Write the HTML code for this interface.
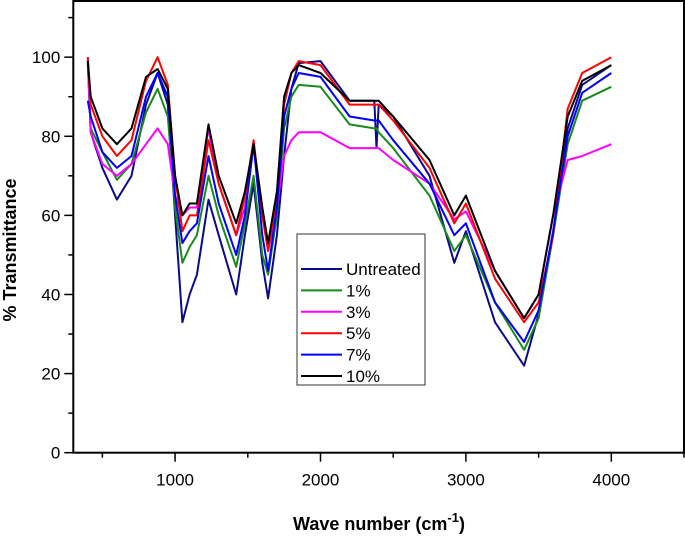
<!DOCTYPE html>
<html><head><meta charset="utf-8"><style>
body{margin:0;background:#fff;width:685px;height:537px;overflow:hidden}
svg{display:block;font-family:"Liberation Sans",Arial,sans-serif}
</style></head><body>
<svg id="chart" width="685" height="537">
<g id="axes"></g><g id="series"></g><g id="legend"></g>
</svg>
<script>
const wavenumbers=[400,420,500,600,700,800,880,950,1000,1050,1100,1150,1230,1300,1420,1480,1540,1600,1640,1700,1750,1800,1850,2000,2200,2370,2385,2400,2500,2750,2920,3000,3200,3400,3500,3600,3700,3800,4000];
const seriesNames=["Untreated","1%","3%","5%","7%","10%"];
const seriesColors=["#0a0a8c","#1a8a1a","#ff00ff","#ff0000","#0000ff","#000000"];
const untreated=[99,81,72,64,70,88,96,88,60,33,40,45,64,55,40,55,68,48,39,55,75,92,98.5,99,89,89,77,88,85,70,48,56,33,22,35,55,82,93,98];
const pct1=[98,82,76,69,73,86,92,85,62,48,52,55,70,60,47,58,70,50,45,60,82,90,93,92.5,83,82,82,81,77,65,51,55,38,26,34,55,78,89,92.5];
const pct3=[100,81,73,70,73,78,82,78,65,60,62,62,82,68,55,62,78,62,51,62,75,79,81,81,77,77,77,77,74,68,59,61,46,34,40,60,74,75,78];
const pct5=[100,88,80,75,79,94,100,93,70,56,60,60,79,68,55,65,79,60,51,65,88,96,99,98,88,88,88,88,84,72,58,63,44,33,38,55,87,96,100];
const pct7=[89,85,76,72,75,90,96,90,65,53,56,58,75,63,50,60,78,55,46,62,85,92,96,95,85,84,84,84,79,68,55,58,38,28,36,56,80,91,96];
const pct10=[99,90,82,78,82,95,97,92,70,60,63,63,83,70,58,66,78,62,53,66,90,96,98,96,89,89,89,89,85,74,60,65,46,34,40,60,85,94,98];
const xTicks=[1000,2000,3000,4000];
const yTicks=[0,20,40,60,80,100];

const NS="http://www.w3.org/2000/svg";
const L=73.3,R=684,T=1,B=452.7,xMin=300,xMax=4500,yMin=0,yMax=114.2;
const xs=v=>L+(v-xMin)/(xMax-xMin)*(R-L);
const ys=v=>B-(v-yMin)/(yMax-yMin)*(B-T);
function mk(tag,attrs,parent,text){const e=document.createElementNS(NS,tag);for(const k in attrs)e.setAttribute(k,attrs[k]);if(text!==undefined)e.textContent=text;parent.appendChild(e);return e;}
const axes=document.getElementById('axes');
const frame=mk('rect',{x:L,y:T,width:R-L,height:B-T,fill:'none',stroke:'#000','stroke-width':2},axes);


for(let v=500;v<=4500;v+=500){
  const major=v%1000===0;
  const t=mk('line',{x1:xs(v),x2:xs(v),y1:B,y2:B+(major?9:5),stroke:'#000','stroke-width':1.5},axes);
  
  
}
xTicks.forEach(v=>{
  const t=mk('text',{x:xs(v),y:B+33,'font-size':17,'text-anchor':'middle'},axes,String(v));
  
  
});
for(let v=0;v<=110;v+=10){
  const major=v%20===0;
  const t=mk('line',{x1:L-(major?9:5),x2:L,y1:ys(v),y2:ys(v),stroke:'#000','stroke-width':1.5},axes);
  
  
}
yTicks.forEach(v=>{
  const t=mk('text',{x:L-13,y:ys(v)+6,'font-size':17,'text-anchor':'end'},axes,String(v));
  
  
});
const xt=mk('text',{x:379,y:530,'font-size':18,'font-weight':'bold','text-anchor':'middle'},axes);


xt.appendChild(document.createTextNode('Wave number (cm'));
const sup=mk('tspan',{dy:-8,'font-size':13},xt,'-1');
const cl=mk('tspan',{dy:8},xt,')');
const yt=mk('text',{x:0,y:0,'font-size':18,'font-weight':'bold','text-anchor':'middle',transform:'translate(16,250) rotate(-90)'},axes,'% Transmittance');



const data=[untreated,pct1,pct3,pct5,pct7,pct10];
const sg=document.getElementById('series');
data.forEach((arr,i)=>{
  const d=arr.map((v,j)=>(j?'L':'M')+xs(wavenumbers[j]).toFixed(1)+','+ys(v).toFixed(1)).join(' ');
  const p=mk('path',{d:d,fill:'none',stroke:seriesColors[i],'stroke-width':2,'stroke-linejoin':'round'},sg);
  
  
});
const lg=document.getElementById('legend');
const box=mk('rect',{x:297,y:234,width:128,height:151,fill:'#fff',stroke:'#333','stroke-width':1},lg);


seriesNames.forEach((n,i)=>{
  const y=269+i*21.4;
  const ln=mk('line',{x1:301,x2:342,y1:y,y2:y,stroke:seriesColors[i],'stroke-width':2},lg);
  
  
  const tx=mk('text',{x:346,y:y+6,'font-size':17},lg,n);
  
  
});
</script>
</body></html>
